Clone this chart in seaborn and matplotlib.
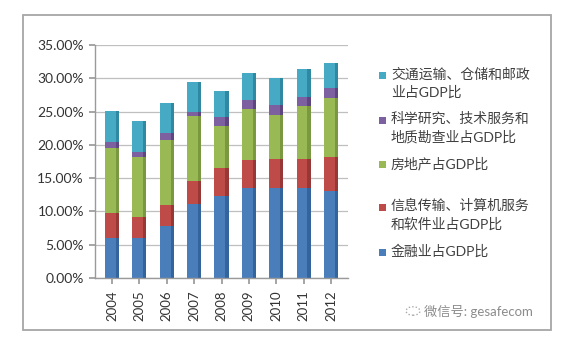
import numpy as np
import pandas as pd
import seaborn as sns
import matplotlib
matplotlib.use("Agg")
import matplotlib.pyplot as plt
from matplotlib.patches import Rectangle, Circle
from matplotlib.ticker import FuncFormatter

# ---- data (percent of GDP) ----
years = ['2004', '2005', '2006', '2007', '2008', '2009', '2010', '2011', '2012']
finance = [6.0, 6.0, 7.75, 11.15, 12.25, 13.5, 13.5, 13.5, 13.0]
info_tech = [3.75, 3.1, 3.25, 3.35, 4.25, 4.25, 4.35, 4.35, 5.15]
real_estate = [9.75, 9.15, 9.75, 9.85, 6.35, 7.6, 6.65, 8.0, 8.85]
science = [1.0, 0.75, 1.0, 0.65, 1.4, 1.4, 1.5, 1.4, 1.5]
transport = [4.65, 4.65, 4.5, 4.5, 3.85, 4.0, 4.0, 4.1, 3.85]

series_labels = ['金融业占GDP比',
                 '信息传输、计算机服务\n和软件业占GDP比',
                 '房地产占GDP比',
                 '科学研究、技术服务和\n地质勘查业占GDP比',
                 '交通运输、仓储和邮政\n业占GDP比']
y_ticks = [0, 5, 10, 15, 20, 25, 30, 35]

colors = ['#4A7EBB', '#BE4B48', '#98B954', '#7D60A0', '#46AAC5']
side_colors = ['#33659C', '#983836', '#7A9840', '#5E4680', '#3089A2']

sns.set_theme(style='white')
plt.rcParams['font.family'] = ['Lato', 'Noto Sans CJK SC', 'DejaVu Sans']

W, H = 572, 346
fig = plt.figure(figsize=(W / 100, H / 100), dpi=100)
fig.patch.set_facecolor('white')

# outer chart border
fig.patches.append(Rectangle((23 / W, 1 - 330 / H), (551 - 23) / W, (330 - 15) / H,
                             transform=fig.transFigure, fill=False,
                             edgecolor='#A6A6A6', linewidth=1.3))

ax = fig.add_axes([95 / W, 1 - 278 / H, (348 - 95) / W, (278 - 45) / H])

df = pd.DataFrame({'year': years, 'finance': finance, 'info': info_tech,
                   'real_estate': real_estate, 'science': science,
                   'transport': transport})
cols = ['finance', 'info', 'real_estate', 'science', 'transport']
cum = df[cols].cumsum(axis=1)

for i in reversed(range(len(cols))):
    sns.barplot(x=df['year'], y=cum[cols[i]], color=colors[i], saturation=1,
                width=0.52, linewidth=0, ax=ax)

# darker side face to suggest the 3D look of the original bars
xpos = np.arange(len(years))
for i in reversed(range(len(cols))):
    ax.bar(xpos + 0.2, cum[cols[i]], width=0.12, color=side_colors[i],
           linewidth=0)

ax.set_xlim(-0.62, 8.62)
ax.set_ylim(0, 35)
ax.set_yticks(y_ticks)
ax.yaxis.set_major_formatter(FuncFormatter(lambda v, p: f'{v:.2f}%'))
ax.grid(axis='y', color='#BFBFBF', linewidth=0.9)
ax.set_axisbelow(True)
ax.set_xlabel('')
ax.set_ylabel('')
for s in ['top', 'right']:
    ax.spines[s].set_visible(False)
for s in ['left', 'bottom']:
    ax.spines[s].set_color('#9A9A9A')
    ax.spines[s].set_linewidth(1.0)
ax.tick_params(axis='y', length=4, pad=4, color='#9A9A9A', labelsize=10,
               labelcolor='#333333', left=True)
ax.tick_params(axis='x', length=4, pad=5, color='#9A9A9A', labelsize=9.5,
               labelcolor='#333333', bottom=True, labelrotation=90)

# legend (manual, marker aligned with first line)
legend_y = [75, 120, 165, 207, 252]
order = [4, 3, 2, 1, 0]
for yy, i in zip(legend_y, order):
    fig.patches.append(Rectangle((379 / W, 1 - (yy + 3.5) / H), 7 / W, 7 / H,
                                 transform=fig.transFigure, facecolor=colors[i],
                                 edgecolor='none'))
    fig.text(391 / W, 1 - (yy - 8) / H, series_labels[i], ha='left', va='top',
             fontsize=10, color='#404040', linespacing=1.45)

# watermark
fig.patches.append(Circle((413 / W, 1 - 311 / H), 7 / W, transform=fig.transFigure,
                          fill=False, edgecolor='#AAAAAA', linestyle=(0, (1, 1.5)),
                          linewidth=1.0))
fig.text(424 / W, 1 - 311 / H, '微信号: gesafecom', ha='left', va='center',
         fontsize=9.5, color='#8C8C8C')

fig.savefig('out.png', dpi=100, facecolor='white')
